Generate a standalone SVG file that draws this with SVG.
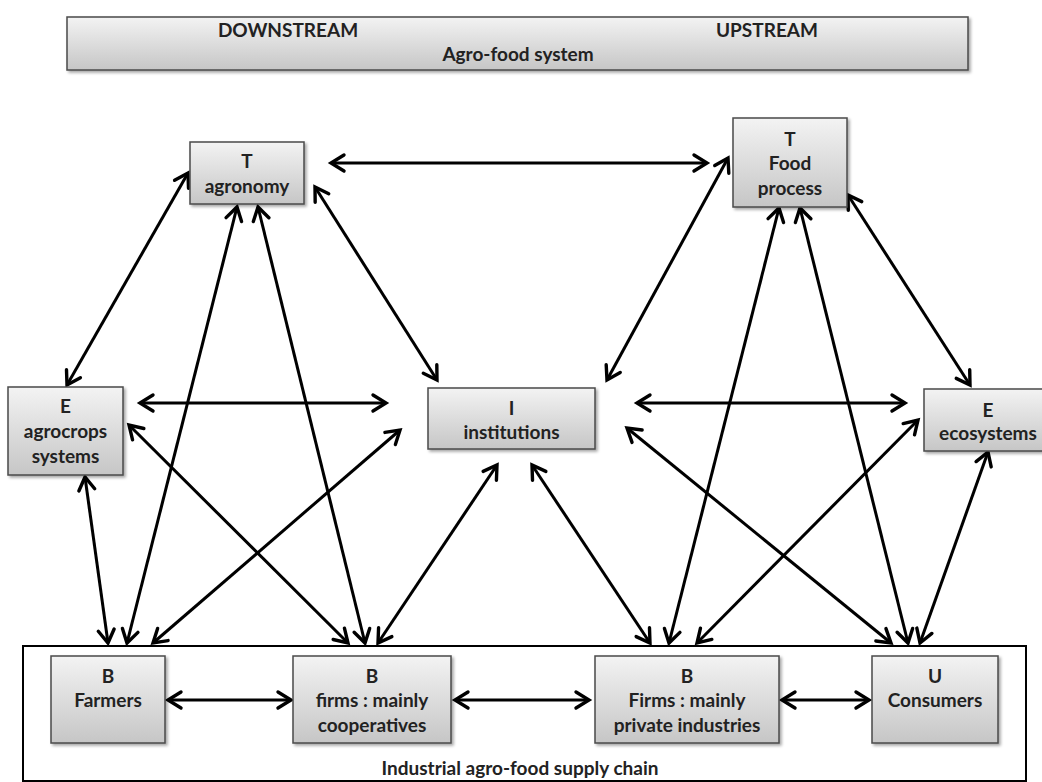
<svg xmlns="http://www.w3.org/2000/svg" width="1042" height="782" viewBox="0 0 1042 782">
<style>
.t{font-family:Lato,"Liberation Sans",sans-serif;font-weight:bold;font-size:19px;fill:#222;text-anchor:middle}
.box{fill:url(#g);stroke:#4a4a4a;stroke-width:1.5;filter:url(#sh)}
.c{stroke:#000;stroke-width:3;fill:none;marker-start:url(#ah);marker-end:url(#ah)}
</style>
<defs>
<linearGradient id="g" x1="0" y1="0" x2="0" y2="1">
<stop offset="0" stop-color="#f3f3f3"/>
<stop offset="1" stop-color="#c6c6c6"/>
</linearGradient>
<filter id="sh" x="-10%" y="-10%" width="130%" height="140%">
<feDropShadow dx="2" dy="2" stdDeviation="1.5" flood-color="#000" flood-opacity="0.35"/>
</filter>
<marker id="ah" markerUnits="userSpaceOnUse" markerWidth="40" markerHeight="40" viewBox="-20 -20 40 40" refX="0" refY="0" orient="auto-start-reverse" overflow="visible">
<path d="M-13,-8 L0,0 L-13,8" fill="none" stroke="#000" stroke-width="3.4" stroke-linecap="round"/>
</marker>
</defs>
<rect width="1042" height="782" fill="#fff"/>

<g id="topbar">
<rect class="box" x="67" y="17" width="901" height="53"/>
<text class="t" x="288" y="37">DOWNSTREAM</text>
<text class="t" x="767" y="37">UPSTREAM</text>
<text class="t" x="518" y="61">Agro-food system</text>
</g>

<g id="supply-chain">
<rect x="23" y="646" width="1003" height="135" fill="#fff" stroke="#000" stroke-width="2"/>
<text class="t" x="520" y="775">Industrial agro-food supply chain</text>
</g>

<g id="connectors">
<line class="c" x1="331" y1="163" x2="707" y2="163"/>
<line class="c" x1="188" y1="173" x2="67" y2="385"/>
<line class="c" x1="315" y1="187" x2="437" y2="380"/>
<line class="c" x1="140" y1="403" x2="386" y2="403"/>
<line class="c" x1="637" y1="403" x2="905" y2="403"/>
<line class="c" x1="728" y1="158" x2="607" y2="380"/>
<line class="c" x1="848" y1="195" x2="970" y2="385"/>
<line class="c" x1="237" y1="207" x2="127" y2="643"/>
<line class="c" x1="258" y1="207" x2="365" y2="643"/>
<line class="c" x1="85" y1="477" x2="108" y2="643"/>
<line class="c" x1="129" y1="425" x2="348" y2="643"/>
<line class="c" x1="400" y1="430" x2="153" y2="643"/>
<line class="c" x1="497" y1="465" x2="378" y2="643"/>
<line class="c" x1="532" y1="465" x2="650" y2="643"/>
<line class="c" x1="779" y1="208" x2="669" y2="643"/>
<line class="c" x1="800" y1="208" x2="908" y2="643"/>
<line class="c" x1="918" y1="420" x2="697" y2="643"/>
<line class="c" x1="627" y1="428" x2="891" y2="643"/>
<line class="c" x1="988" y1="452" x2="920" y2="643"/>
<line class="c" x1="168" y1="700" x2="291" y2="700"/>
<line class="c" x1="455" y1="700" x2="589" y2="700"/>
<line class="c" x1="782" y1="700" x2="869" y2="700"/>
</g>

<g id="agronomy">
<rect class="box" x="190" y="142" width="114" height="62"/>
<text class="t" x="247" y="168">T</text>
<text class="t" x="247" y="193">agronomy</text>
</g>

<g id="food-process">
<rect class="box" x="733" y="118" width="114" height="89"/>
<text class="t" x="790" y="146">T</text>
<text class="t" x="790" y="170">Food</text>
<text class="t" x="790" y="195">process</text>
</g>

<g id="agrocrops">
<rect class="box" x="8" y="387" width="115" height="88"/>
<text class="t" x="65.5" y="413">E</text>
<text class="t" x="65.5" y="438">agrocrops</text>
<text class="t" x="65.5" y="463">systems</text>
</g>

<g id="institutions">
<rect class="box" x="428" y="388" width="167" height="61"/>
<text class="t" x="511.5" y="415">I</text>
<text class="t" x="511.5" y="439">institutions</text>
</g>

<g id="ecosystems">
<rect class="box" x="924" y="389" width="128" height="62"/>
<text class="t" x="988" y="417">E</text>
<text class="t" x="988" y="440">ecosystems</text>
</g>

<g id="farmers">
<rect class="box" x="51" y="656" width="114" height="87"/>
<text class="t" x="108" y="683">B</text>
<text class="t" x="108" y="707">Farmers</text>
</g>

<g id="cooperatives">
<rect class="box" x="293" y="656" width="158" height="87"/>
<text class="t" x="372" y="683">B</text>
<text class="t" x="372" y="707">firms : mainly</text>
<text class="t" x="372" y="732">cooperatives</text>
</g>

<g id="private-industries">
<rect class="box" x="595" y="656" width="184" height="87"/>
<text class="t" x="687" y="683">B</text>
<text class="t" x="687" y="707">Firms : mainly</text>
<text class="t" x="687" y="732">private industries</text>
</g>

<g id="consumers">
<rect class="box" x="872" y="656" width="126" height="87"/>
<text class="t" x="935" y="683">U</text>
<text class="t" x="935" y="707">Consumers</text>
</g>
</svg>
